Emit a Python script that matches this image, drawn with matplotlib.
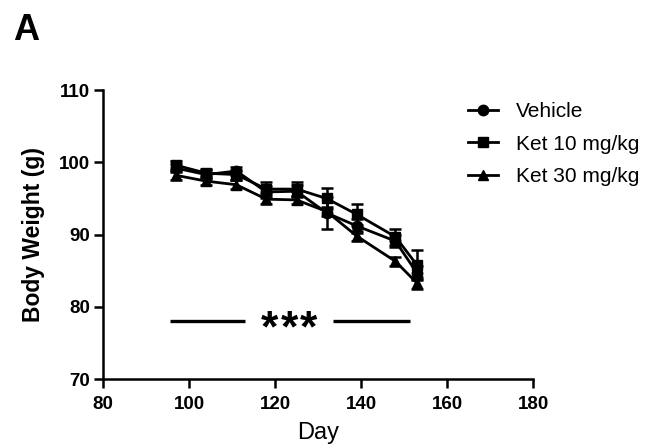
import numpy as np
import matplotlib
matplotlib.use("Agg")
import matplotlib.pyplot as plt

plt.rcParams['font.family'] = ['Liberation Sans', 'DejaVu Sans']

days = [97, 104, 111, 118, 125, 132, 139, 148, 153]
series_names = ["Vehicle", "Ket 10 mg/kg", "Ket 30 mg/kg"]
vehicle = [99.2, 98.3, 98.8, 95.9, 96.0, 93.0, 91.2, 89.1, 84.7]
vehicle_err = [0.6, 0.6, 0.6, 0.8, 0.8, 2.2, 1.0, 0.8, 1.0]
ket10 = [99.6, 98.5, 98.3, 96.3, 96.3, 95.0, 92.8, 89.7, 85.8]
ket10_err = [0.6, 0.6, 0.7, 1.0, 1.0, 1.4, 1.5, 1.1, 2.0]
ket30 = [98.2, 97.4, 96.9, 94.9, 94.8, 93.2, 89.8, 86.3, 83.3]
ket30_err = [0.6, 0.6, 0.6, 0.7, 0.6, 0.6, 0.7, 0.6, 0.8]
markers = ["o", "s", "^"]

sig_left = (95.5, 113)
sig_right = (133.5, 151.5)
sig_y = 78
sig_stars = 3

fig = plt.figure(figsize=(6.52, 4.46), dpi=100)
ax = fig.add_axes([0.158, 0.150, 0.6595, 0.648])

handles = []
for vals, errs, name, m in zip([vehicle, ket10, ket30],
                               [vehicle_err, ket10_err, ket30_err],
                               series_names, markers):
    cont = ax.errorbar(days, vals, yerr=errs, color="black", marker=m, markersize=7.5,
                       linewidth=2, elinewidth=1.8, capsize=4, capthick=1.8, label=name)
    handles.append(cont[0])

ax.plot(sig_left, [sig_y, sig_y], color="black", linewidth=2.4, solid_capstyle="butt")
ax.plot(sig_right, [sig_y, sig_y], color="black", linewidth=2.4, solid_capstyle="butt")
# stars a bit spread out, like the original
mid = np.mean([sig_left[1], sig_right[0]])
for k in range(sig_stars):
    ax.annotate("*", (mid, sig_y), xytext=((k - 1) * 14, -6), textcoords="offset points",
                ha="center", va="center", fontsize=32, fontweight="bold")

ax.set_xlim(80, 180)
ax.set_ylim(70, 110)
ax.set_xticks([80, 100, 120, 140, 160, 180])
ax.set_yticks([70, 80, 90, 100, 110])
ax.spines["top"].set_visible(False)
ax.spines["right"].set_visible(False)
ax.spines["left"].set_linewidth(1.8)
ax.spines["bottom"].set_linewidth(1.8)
ax.tick_params(width=1.8, length=6.5, labelsize=13.5)
ax.tick_params(axis="x", pad=6)
ax.tick_params(axis="y", pad=3)
for lab in ax.get_xticklabels() + ax.get_yticklabels():
    lab.set_fontweight("bold")

ax.set_xlabel("Day", fontsize=17, labelpad=6)
ax.set_ylabel("Body Weight (g)", fontsize=16.5, fontweight="bold", labelpad=10)

ax.legend(handles, series_names, loc="upper left", bbox_to_anchor=(0.83, 0.987),
          frameon=False, fontsize=15, handlelength=1.45, handletextpad=0.85,
          labelspacing=0.65, borderaxespad=0)

fig.text(0.02, 0.91, "A", fontsize=26, fontweight="bold")

fig.savefig("out.png", dpi=100)
